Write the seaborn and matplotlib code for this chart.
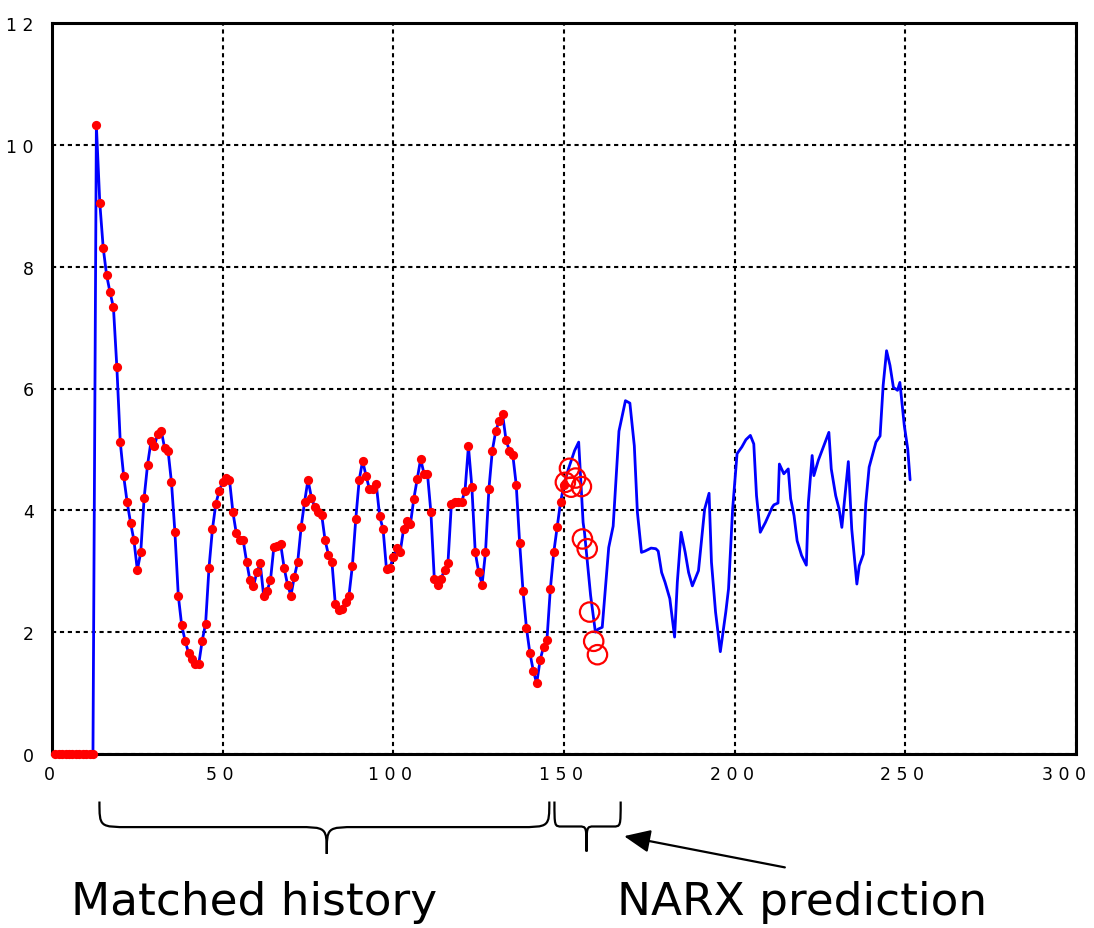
import numpy as np
import pandas as pd
import matplotlib
matplotlib.use("Agg")
import matplotlib.pyplot as plt
from matplotlib.path import Path
from matplotlib.patches import PathPatch
from matplotlib.transforms import ScaledTranslation
import seaborn as sns

# ---------------- data ----------------
hist_x = list(range(1, 151))
hist_y = [0, 0, 0, 0, 0, 0, 0, 0, 0, 0, 0, 0,
          10.32, 9.05, 8.31, 7.86, 7.58, 7.33, 6.35, 5.12, 4.56, 4.14,
          3.80, 3.51, 3.02, 3.31, 4.21, 4.75, 5.13, 5.06, 5.26, 5.31,
          5.02, 4.98, 4.46, 3.65, 2.60, 2.11, 1.86, 1.66, 1.56, 1.48,
          1.48, 1.86, 2.14, 3.06, 3.69, 4.11, 4.32, 4.46, 4.53, 4.50,
          3.97, 3.62, 3.52, 3.51, 3.16, 2.85, 2.75, 2.98, 3.13, 2.60,
          2.68, 2.85, 3.40, 3.42, 3.44, 3.06, 2.78, 2.60, 2.91, 3.16,
          3.73, 4.14, 4.50, 4.21, 4.05, 3.97, 3.93, 3.51, 3.27, 3.16,
          2.46, 2.36, 2.38, 2.50, 2.60, 3.09, 3.86, 4.50, 4.81, 4.57,
          4.35, 4.35, 4.43, 3.90, 3.69, 3.03, 3.06, 3.23, 3.38, 3.31,
          3.69, 3.83, 3.77, 4.19, 4.52, 4.84, 4.60, 4.60, 3.97, 2.88,
          2.78, 2.88, 3.02, 3.13, 4.10, 4.14, 4.14, 4.14, 4.32, 5.05,
          4.39, 3.31, 2.99, 2.78, 3.31, 4.35, 4.98, 5.30, 5.47, 5.58,
          5.16, 4.98, 4.91, 4.42, 3.47, 2.67, 2.07, 1.66, 1.37, 1.16,
          1.54, 1.76, 1.87, 2.71, 3.31, 3.73, 4.14, 4.42]

pred_x = [151.3, 153.1, 154.3, 155.6, 156.0, 157.8, 159.2, 160.0, 161.2, 163.1,
          164.4, 166.1, 168.0, 169.3, 170.6, 171.5, 172.7, 173.7, 175.5, 176.9,
          177.6, 178.6, 179.6, 181.0, 182.4, 183.2, 184.3, 185.5, 186.5, 187.6,
          189.4, 191.2, 192.5, 193.2, 194.4, 195.8, 197.4, 198.2, 199.4, 200.7,
          202.1, 203.3, 204.6, 205.6, 206.4, 207.5, 209.0, 211.0, 211.5, 212.7,
          213.1, 214.4, 215.7, 216.4, 217.4, 218.3, 219.6, 221.0, 221.6, 222.7,
          223.2, 224.5, 227.6, 228.3, 229.6, 230.6, 231.4, 233.3, 234.3, 235.8,
          236.5, 237.7, 238.4, 239.4, 241.4, 242.6, 243.5, 244.5, 245.5, 246.5,
          247.7, 248.4, 249.7, 250.7, 251.4]
pred_y = [4.68, 4.98, 5.12, 3.80, 3.64, 2.60, 2.00, 2.05, 2.08, 3.39,
          3.74, 5.30, 5.80, 5.76, 5.06, 3.97, 3.31, 3.33, 3.38, 3.37,
          3.33, 2.98, 2.82, 2.55, 1.92, 2.82, 3.64, 3.31, 2.98, 2.76,
          3.01, 4.02, 4.28, 3.15, 2.33, 1.68, 2.33, 2.71, 4.02, 4.93,
          5.04, 5.16, 5.23, 5.09, 4.24, 3.64, 3.80, 4.05, 4.09, 4.12,
          4.76, 4.60, 4.68, 4.19, 3.91, 3.50, 3.26, 3.10, 4.13, 4.90,
          4.57, 4.82, 5.28, 4.68, 4.24, 4.02, 3.72, 4.80, 3.69, 2.79,
          3.09, 3.28, 4.11, 4.71, 5.12, 5.22, 6.05, 6.62, 6.38, 6.02,
          5.97, 6.10, 5.39, 5.01, 4.50]

circle_x = [150.4, 151.6, 152.1, 153.4, 155.1, 155.4, 156.8, 157.5, 158.7, 159.8]
circle_y = [4.46, 4.69, 4.38, 4.53, 4.39, 3.53, 3.37, 2.33, 1.85, 1.63]

x_ticks = [0, 50, 100, 150, 200, 250, 300]
x_tick_labels = ["0", "5 0", "1 0 0", "1 5 0", "2 0 0", "2 5 0", "3 0 0"]
y_ticks = [0, 2, 4, 6, 8, 10, 12]
y_tick_labels = ["0", "2", "4", "6", "8", "1 0", "1 2"]

label_history = "Matched history"
label_prediction = "NARX prediction"

# ---------------- figure ----------------
sns.set_style("white")
plt.rcParams["font.family"] = ["DejaVu Sans"]

W, H = 1094, 929
fig = plt.figure(figsize=(W / 100, H / 100), dpi=100)
ax = fig.add_axes([52 / W, 1 - 755 / H, (1076 - 52) / W, (755 - 24) / H])

line_df = pd.DataFrame({"x": hist_x + pred_x, "y": hist_y + pred_y})
sns.lineplot(data=line_df, x="x", y="y", ax=ax, color="#0000ff", lw=2.0,
             sort=False, estimator=None, zorder=3)
hist_df = pd.DataFrame({"x": hist_x, "y": hist_y})
sns.scatterplot(data=hist_df, x="x", y="y", ax=ax, color="#ff0000", s=44,
                edgecolor="#ff0000", linewidth=0, zorder=4, clip_on=False)
circ_df = pd.DataFrame({"x": circle_x, "y": circle_y})
sns.scatterplot(data=circ_df, x="x", y="y", ax=ax, s=195, facecolor="none",
                edgecolor="#ff0000", linewidth=1.6, zorder=5)

ax.set_xlim(0, 300)
ax.set_ylim(0, 12)
ax.set_xticks(x_ticks)
ax.set_xticklabels(x_tick_labels)
ax.set_yticks(y_ticks)
ax.set_yticklabels(y_tick_labels)
ax.set_xlabel("")
ax.set_ylabel("")
ax.grid(True, color="black", linestyle=(0, (2.0, 1.8)), linewidth=1.5)
ax.set_axisbelow(True)
for sp in ax.spines.values():
    sp.set_visible(True)
    sp.set_color("black")
    sp.set_linewidth(2.2)
ax.tick_params(direction="in", length=8, width=1.5, colors="black",
               labelsize=12.5, pad=8)
ax.tick_params(axis="y", pad=13)
ax.tick_params(top=False, right=False)

# nudge x tick labels slightly left, like the reference
for i, lab in enumerate(ax.get_xticklabels()):
    dx = -12 if i == len(x_ticks) - 1 else -3
    lab.set_transform(lab.get_transform() + ScaledTranslation(dx / 100, 0, fig.dpi_scale_trans))

# ---------------- braces & annotations ----------------
def brace(xa, xb, xm, yt, yf, yb, r):
    verts = [(xa, yt), (xa, yf), (xa, yf), (xa + r, yf),
             (xm - r, yf),
             (xm, yf), (xm, yf), (xm, yb),
             (xm, yb),
             (xm, yf), (xm, yf), (xm + r, yf),
             (xb - r, yf),
             (xb, yf), (xb, yf), (xb, yt)]
    codes = [Path.MOVETO, Path.CURVE4, Path.CURVE4, Path.CURVE4,
             Path.LINETO,
             Path.CURVE4, Path.CURVE4, Path.CURVE4,
             Path.MOVETO,
             Path.CURVE4, Path.CURVE4, Path.CURVE4,
             Path.LINETO,
             Path.CURVE4, Path.CURVE4, Path.CURVE4]
    p = PathPatch(Path(verts, codes), facecolor="none", edgecolor="black",
                  lw=1.6, transform=ax.transData, clip_on=False)
    ax.add_patch(p)

brace(13.9, 145.7, 80.5, -0.78, -1.20, -1.64, 9.0)
brace(147.2, 166.6, 156.6, -0.78, -1.19, -1.60, 2.2)

ax.annotate("", xy=(166.8, -1.34), xytext=(215.5, -1.87),
            xycoords="data", textcoords="data", annotation_clip=False,
            arrowprops=dict(arrowstyle="-|>,head_length=0.8,head_width=0.35",
                            color="black", lw=1.6, mutation_scale=20))

fig.text(71 / W, 1 - 915 / H, label_history, fontsize=32.7, color="black",
         ha="left", va="baseline")
fig.text(617 / W, 1 - 915 / H, label_prediction, fontsize=32.7, color="black",
         ha="left", va="baseline")

fig.savefig("out.png", dpi=100)
